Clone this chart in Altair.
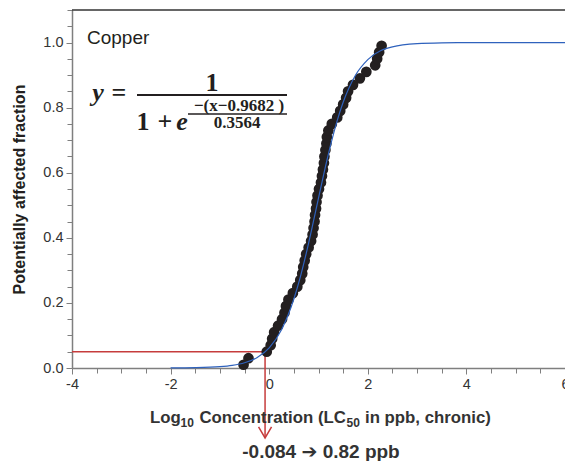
import altair as alt
import pandas as pd

# ---------------- data ----------------
PTS_Y = [0.01, 0.03, 0.05, 0.07, 0.09, 0.11, 0.13, 0.15, 0.17, 0.19,
         0.21, 0.23, 0.25, 0.27, 0.29, 0.31, 0.33, 0.35, 0.37, 0.39,
         0.41, 0.43, 0.45, 0.47, 0.49, 0.51, 0.53, 0.55, 0.57, 0.59,
         0.61, 0.63, 0.65, 0.67, 0.69, 0.71, 0.73, 0.75, 0.77, 0.79,
         0.81, 0.83, 0.85, 0.87, 0.89, 0.91, 0.93, 0.95, 0.97, 0.99]
PTS_X = [-0.52, -0.42, -0.05, 0.03, 0.06, 0.10, 0.18, 0.26, 0.31, 0.34,
         0.39, 0.48, 0.57, 0.63, 0.67, 0.69, 0.72, 0.75, 0.80, 0.85,
         0.88, 0.90, 0.92, 0.93, 0.95, 0.96, 0.98, 1.01, 1.05, 1.07,
         1.09, 1.11, 1.12, 1.14, 1.16, 1.17, 1.20, 1.27, 1.38, 1.44,
         1.50, 1.56, 1.60, 1.70, 1.84, 1.97, 2.15, 2.19, 2.23, 2.28]

CURVE_X = [-2, -1.5, -1, -0.75, -0.5, -0.25, 0, 0.25, 0.5, 0.625, 0.75,
           0.875, 1.0, 1.125, 1.25, 1.375, 1.5, 1.75, 2.0, 2.5, 3.0, 3.5,
           4.0, 5.0, 6.0]
CURVE_Y = [0.0002, 0.001, 0.004, 0.008, 0.016, 0.0317, 0.062, 0.1176,
           0.2119, 0.2762, 0.3516, 0.4350, 0.5223, 0.6083, 0.688, 0.7579,
           0.8164, 0.8997, 0.9476, 0.9866, 0.9967, 0.9992, 0.9998, 1.0, 1.0]

CUTOFF_X = -0.084
CUTOFF_Y = 0.05
X_MIN, X_MAX = -4, 6
Y_MIN, Y_MAX = 0, 1.1
ARROW_TIP_Y = -0.215

X_TICKS = [-4, -3.5, -3, -2.5, -2, -1.5, -1, -0.5, 0, 0.5, 1, 1.5, 2, 2.5,
           3, 3.5, 4, 4.5, 5, 5.5, 6]
Y_TICKS = [0, 0.05, 0.1, 0.15, 0.2, 0.25, 0.3, 0.35, 0.4, 0.45, 0.5, 0.55,
           0.6, 0.65, 0.7, 0.75, 0.8, 0.85, 0.9, 0.95, 1.0, 1.05, 1.1]

# x title pieces: (text, is_subscript)
X_TITLE_PARTS = [("Log", False), ("10", True), ("Concentration (LC", False),
                 ("50", True), ("in ppb, chronic)", False)]
Y_TITLE = "Potentially affected fraction"
RESULT_TEXT = "-0.084 \u2794 0.82 ppb"

# ---------------- style ----------------
W, H = 493, 358
SANS = "Liberation Sans, Arial, DejaVu Sans"
SERIF = "Liberation Serif, Times New Roman, serif"
INK = "#231f20"
RED = "#c63c3c"
BLUE = "#2f62bd"
AXC = "#7f7f7f"

xscale = alt.Scale(domain=[X_MIN, X_MAX], nice=False, zero=False)
yscale = alt.Scale(domain=[Y_MIN, Y_MAX], nice=False, zero=False)

xaxis = alt.Axis(
    values=X_TICKS,
    labelExpr="round(datum.value*2) % 4 == 0 ? '' + datum.value : ''",
    title="", labelFont=SANS, labelFontSize=14.5, labelColor="#333333",
    domainColor=AXC, domainWidth=1.5, tickColor=AXC, tickWidth=1,
    tickSize={"condition": {"test": "round(datum.value*2) % 4 == 0", "value": 6}, "value": 5},
    labelPadding=3, grid=False, labelFlush=False, labelOverlap=False,
)
yaxis = alt.Axis(
    values=Y_TICKS,
    labelExpr="round(datum.value*20) % 4 == 0 ? format(datum.value, '.1f') : ''",
    title=Y_TITLE, titleFont=SANS, titleFontSize=16, titleFontWeight="bold",
    titleColor=INK, labelFont=SANS, labelFontSize=14.5, labelColor="#333333",
    domainColor=AXC, domainWidth=1.5, tickColor=AXC, tickWidth=1,
    tickSize={"condition": {"test": "round(datum.value*20) % 4 == 0", "value": 6}, "value": 5},
    labelPadding=3, titlePadding=15, grid=False, labelFlush=False,
    labelOverlap=False,
)


def X(field="x"):
    return alt.X(f"{field}:Q", scale=xscale, axis=xaxis)


def Y(field="y"):
    return alt.Y(f"{field}:Q", scale=yscale, axis=yaxis)


pts = pd.DataFrame({"x": PTS_X, "y": PTS_Y})
curve = pd.DataFrame({"x": CURVE_X, "y": CURVE_Y})

points = alt.Chart(pts).mark_circle(size=115, color=INK, opacity=1).encode(x=X(), y=Y())

line = alt.Chart(curve).mark_line(color=BLUE, strokeWidth=1.2, interpolate="monotone").encode(
    x=X(), y=Y())

hline = alt.Chart(pd.DataFrame({"x": [X_MIN], "x2": [CUTOFF_X], "y": [CUTOFF_Y]})).mark_rule(
    color=RED, strokeWidth=1.5).encode(x=X(), x2="x2:Q", y=Y())
vline = alt.Chart(pd.DataFrame({"x": [CUTOFF_X], "y": [CUTOFF_Y], "y2": [ARROW_TIP_Y]})).mark_rule(
    color=RED, strokeWidth=1.5).encode(x=X(), y=Y(), y2="y2:Q")
arrow = alt.Chart(pd.DataFrame({"x": [CUTOFF_X], "y": [ARROW_TIP_Y]})).mark_point(
    shape="M-1,-1.7L0,0L1,-1.7", size=169, filled=False, color=RED, strokeWidth=1.5,
    opacity=1).encode(x=X(), y=Y())

top_border = alt.Chart(pd.DataFrame({"a": [0]})).mark_rule(color="#333333", strokeWidth=1.5).encode(
    x=alt.value(0), x2=alt.value(W), y=alt.value(0))


def txt(s, x, y, size, font=SANS, weight="normal", style="normal", align="center",
        baseline="alphabetic", color=INK):
    return alt.Chart(pd.DataFrame({"t": [s]})).mark_text(
        font=font, fontSize=size, fontWeight=weight, fontStyle=style, align=align,
        baseline=baseline, color=color).encode(
        x=alt.value(x), y=alt.value(y), text="t:N")


def bar(x1, x2, y, w):
    return alt.Chart(pd.DataFrame({"a": [0]})).mark_rule(color=INK, strokeWidth=w).encode(
        x=alt.value(x1), x2=alt.value(x2), y=alt.value(y))


# x-axis title assembled from pieces so the subscripts look right
title_x = [78, 108.5, 127.5, 274.5, 293]
title_layers = []
for (part, sub), px in zip(X_TITLE_PARTS, title_x):
    title_layers.append(txt(part, px, 417 if sub else 413, 12 if sub else 16.8,
                            weight="bold", align="left", color="#333333"))

texts = [
    txt("Copper", 15, 34, 19, align="left"),
    txt("y", 26, 91, 26, font=SERIF, weight="bold", style="italic"),
    txt("=", 47, 91, 26, font=SERIF, weight="bold"),
    txt("1", 140, 81, 26, font=SERIF, weight="bold"),
    bar(65, 215, 85, 2),
    txt("1", 71, 120, 26, font=SERIF, weight="bold"),
    txt("+", 93, 120, 26, font=SERIF, weight="bold"),
    txt("e", 110, 120, 26, font=SERIF, weight="bold", style="italic"),
    txt("\u2212(x\u22120.9682 )", 167, 101, 17, font=SERIF, weight="bold"),
    bar(116, 215, 104, 1.5),
    txt("0.3564", 165, 118, 17, font=SERIF, weight="bold"),
    txt(RESULT_TEXT, 249, 448, 19, weight="bold", color="#333333"),
]

chart = alt.layer(hline, vline, arrow, points, line, top_border, *texts, *title_layers).properties(
    width=W, height=H,
    padding={"left": 72, "top": 10, "right": 0, "bottom": 93},
    autosize="none",
).configure_view(stroke=None)

chart.save("out.html", embed_options={"renderer": "svg", "actions": False})
